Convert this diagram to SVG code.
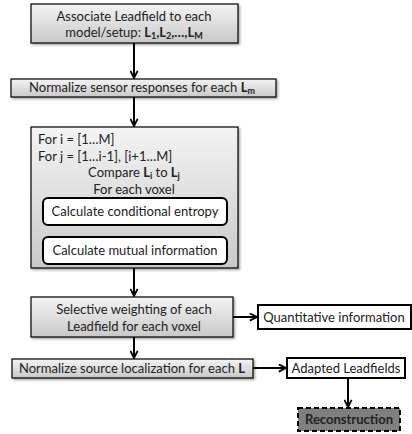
<svg xmlns="http://www.w3.org/2000/svg" width="412" height="434" viewBox="0 0 412 434">
<defs>
<linearGradient id="g" x1="0" y1="0" x2="0" y2="1">
<stop offset="0" stop-color="#f4f4f4"/>
<stop offset="1" stop-color="#c9c9c9"/>
</linearGradient>
<filter id="sh" x="-5%" y="-5%" width="112%" height="125%">
<feDropShadow dx="1.5" dy="1.5" stdDeviation="1" flood-color="#000" flood-opacity="0.35"/>
</filter>
<marker id="ah" viewBox="0 0 10 10" refX="9" refY="5" markerWidth="9" markerHeight="9" markerUnits="userSpaceOnUse" orient="auto">
<path d="M1,1 L9,5 L1,9" fill="none" stroke="#000" stroke-width="2"/>
</marker>
</defs>
<style>
.box{fill:url(#g);stroke:#000;stroke-width:1.2;filter:url(#sh)}
.wbox{fill:#fff;stroke:#000;stroke-width:2}
.t{font-family:Lato,"Open Sans",sans-serif;font-size:13px;fill:#222}
.c{text-anchor:middle}
.b{font-weight:bold}
.sub{font-size:9px;font-weight:bold}
.ln{stroke:#000;stroke-width:2;fill:none;marker-end:url(#ah)}
</style>
<g id="connectors">
<line class="ln" x1="134" y1="43" x2="134" y2="78"/>
<line class="ln" x1="134" y1="97" x2="134" y2="126"/>
<line class="ln" x1="134" y1="225" x2="134" y2="236"/>
<line class="ln" x1="134" y1="268" x2="134" y2="296"/>
<line class="ln" x1="233" y1="317" x2="257" y2="317"/>
<line class="ln" x1="134" y1="337" x2="134" y2="358"/>
<line class="ln" x1="253" y1="368" x2="286" y2="368"/>
<line class="ln" x1="348" y1="378" x2="348" y2="407"/>
</g>
<g id="n1">
<rect class="box" x="31" y="4" width="207" height="39"/>
<text class="t c" x="134" y="21">Associate Leadfield to each</text>
<text class="t c" x="134" y="37">model/setup: <tspan class="b">L</tspan><tspan class="sub" dy="2">1</tspan><tspan class="b" dy="-2">,L</tspan><tspan class="sub" dy="2">2</tspan><tspan class="b" dy="-2">,…,L</tspan><tspan class="sub" dy="2">M</tspan></text>
</g>
<g id="n2">
<rect class="box" x="11" y="79" width="265" height="18"/>
<text class="t c" x="142" y="92">Normalize sensor responses for each <tspan class="b">L</tspan><tspan class="sub" dy="2">m</tspan></text>
</g>
<g id="n3">
<rect class="box" x="31" y="127" width="207" height="141"/>
<text class="t" x="38" y="144">For i = [1…M]</text>
<text class="t" x="38" y="161">For j = [1…i-1], [i+1…M]</text>
<text class="t c" x="134" y="177">Compare <tspan class="b">L</tspan><tspan class="sub" dy="2">i</tspan><tspan dy="-2"> to </tspan><tspan class="b">L</tspan><tspan class="sub" dy="2">j</tspan></text>
<text class="t c" x="134" y="194">For each voxel</text>
</g>
<g id="n3a">
<rect class="wbox" x="43" y="198" width="184" height="27" rx="5"/>
<text class="t c" x="135" y="216">Calculate conditional entropy</text>
</g>
<g id="n3b">
<rect class="wbox" x="43" y="237" width="184" height="27" rx="5"/>
<text class="t c" x="135" y="255">Calculate mutual information</text>
</g>
<g id="n4">
<rect class="box" x="31" y="297" width="202" height="40"/>
<text class="t c" x="134" y="314">Selective weighting of each</text>
<text class="t c" x="134" y="331">Leadfield for each voxel</text>
</g>
<g id="n5">
<rect class="wbox" x="258" y="305" width="153" height="24"/>
<text class="t c" x="334" y="322">Quantitative information</text>
</g>
<g id="n6">
<rect class="box" x="12" y="359" width="241" height="19"/>
<text class="t c" x="132" y="373">Normalize source localization for each <tspan class="b">L</tspan></text>
</g>
<g id="n7">
<rect class="wbox" x="287" y="358" width="118" height="20"/>
<text class="t c" x="346" y="373">Adapted Leadfields</text>
</g>
<g id="n8">
<rect x="298" y="408" width="102" height="23" fill="#7f7f7f" stroke="#000" stroke-width="2" stroke-dasharray="5,3"/>
<text class="t c b" x="349" y="424" fill="#111">Reconstruction</text>
</g>
</svg>
